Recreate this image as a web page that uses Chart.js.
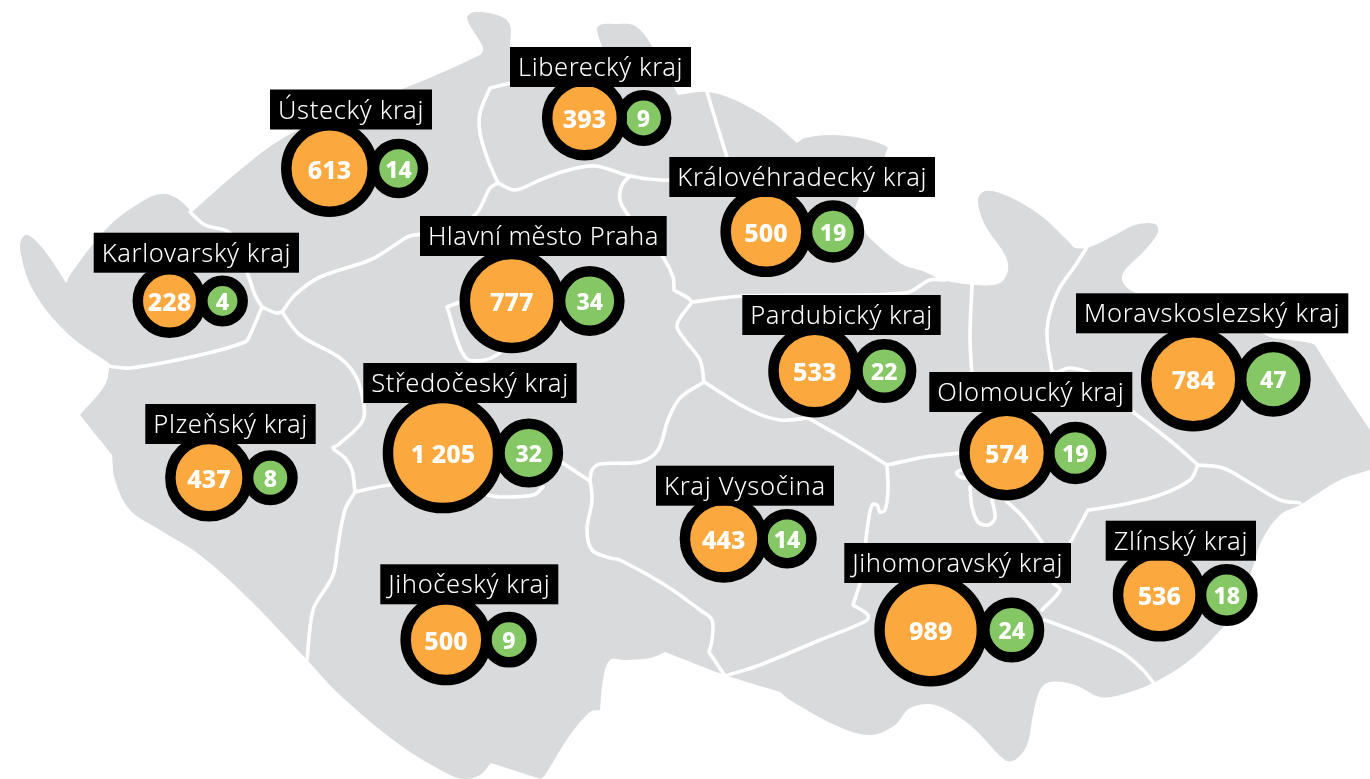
<!DOCTYPE html>
<html lang="cs">
<head>
<meta charset="utf-8">
<title>Kraje</title>
<script src="https://cdn.jsdelivr.net/npm/chart.js@4"></script>
<style>
html,body{margin:0;padding:0;background:#fff;overflow:hidden}
canvas{display:block}
</style>
</head>
<body>
<canvas id="c" width="1370" height="779"></canvas>
<script>
// ---- values ----
const categories = ["Ústecký kraj","Karlovarský kraj","Liberecký kraj","Královéhradecký kraj","Hlavní město Praha","Pardubický kraj","Středočeský kraj","Plzeňský kraj","Jihočeský kraj","Kraj Vysočina","Jihomoravský kraj","Olomoucký kraj","Moravskoslezský kraj","Zlínský kraj"];
const orangeValues = [613,228,393,500,777,533,1205,437,500,443,989,574,784,536];
const greenValues  = [14,4,9,19,34,22,32,8,9,14,24,19,47,18];

// ---- placement on the map ----
const orangeX = [329.5,169.5,584.5,766,511.7,814.7,443,209,446,723.7,930.7,1006.7,1193.3,1159.3];
const greenX  = [398.5,222.5,643.5,833,589.7,884.3,528.7,270.3,509,787,1011.7,1075.3,1273.3,1226.7];
const rowY    = [168.5,301,118,231.5,301,371,453,477.7,639.7,538.7,630,453,379.3,595];
const labelLeft  = [270,93.7,510,669.3,420,742.3,363.3,145.3,380.3,656,844.3,929.3,1076,1105.7];
const labelRight = [432,299,691,935,666.7,940.7,576.7,315.7,558.3,834,1071,1132.3,1348.3,1256];
const labelTop   = [89.5,232.7,47,157,216,295,363,404,564.3,465.7,543,372,293.3,520.7];

// ---- map geometry (a repeated pair makes a sharp corner) ----
const mapOutline = [[110,364],[110,364],[67,333],[33,290],[20,248],[25,235],[35,240],[50,258],[66,283],[66,283],[72,272],[110,225],[150,197],[165,194],[178,199],[192,212],[192,212],[240,170],[280,140],[340,110],[400,90],[480,55],[483,50],[482,45],[467,18],[475,12],[500,16],[510,25],[510,47],[510,47],[602,47],[602,47],[597,30],[600,25],[615,24],[635,26],[652,46],[678,95],[678,95],[707,92],[735,100],[770,120],[797,143],[797,143],[805,138],[830,135],[860,138],[887,147],[885,155],[885,157],[860,196],[855,215],[865,233],[900,263],[925,272],[943,280],[975,285],[1000,283],[1008,270],[1005,255],[985,225],[978,200],[985,191],[1005,195],[1040,215],[1070,243],[1075,248],[1090,247],[1115,235],[1135,225],[1155,224],[1158,232],[1145,250],[1125,270],[1122,280],[1130,290],[1145,296],[1256,330],[1270,337],[1290,340],[1310,343],[1315,345],[1315,345],[1340,385],[1370,430],[1370,430],[1370,470],[1370,470],[1340,480],[1300,505],[1280,515],[1262,540],[1252,570],[1240,605],[1225,625],[1190,660],[1155,682],[1120,695],[1100,697],[1075,685],[1050,682],[1040,690],[1033,715],[1027,745],[1015,760],[1005,760],[970,725],[935,705],[910,708],[895,725],[870,735],[835,725],[790,700],[780,692],[780,692],[725,675],[665,652],[665,652],[650,658],[625,660],[610,660],[603,680],[600,710],[600,710],[590,712],[570,735],[545,775],[541,779],[541,779],[491,763],[491,763],[480,775],[465,779],[450,775],[400,745],[340,695],[307,660],[250,600],[200,555],[160,530],[130,510],[115,480],[112,455],[112,455],[100,440],[80,415],[80,415],[105,385],[110,364]];
const boundaries = [
 [[190,212],[205,225],[230,233],[247,272],[255,295],[262,307],[262,307],[276,313],[282,312],[282,312],[295,295],[320,277],[370,260],[395,245],[410,236],[440,232],[475,215],[490,188],[498,183],[498,183],[515,190],[540,180],[565,171],[595,166],[630,176],[660,180],[690,180]],
 [[262,307],[262,307],[250,335],[245,342],[200,355],[130,368],[108,366]],
 [[498,183],[498,183],[488,160],[480,133],[480,113],[490,88],[490,88],[515,82]],
 [[707,92],[717,125],[727,157]],
 [[630,176],[622,185],[620,200],[628,215],[645,235],[663,257],[673,277],[674,290],[674,290],[688,298],[692,302],[692,302],[743,296],[905,293],[930,280],[945,280]],
 [[692,302],[692,302],[677,325],[685,340],[700,360],[704,382],[704,382],[680,398],[668,420],[658,450],[640,462],[600,464],[592,470],[590,480],[590,480],[592,500],[587,530],[592,550],[610,558],[620,560],[665,585],[700,610],[712,620],[712,640],[709,652],[709,652],[725,676]],
 [[540,445],[563,463],[590,481]],
 [[704,382],[704,382],[750,410],[780,420],[808,418],[808,418],[850,442],[887,465],[887,465],[925,457],[960,453]],
 [[887,465],[887,465],[888,490],[885,510],[880,512],[877,505],[872,505],[867,530],[862,575],[853,605],[853,605],[868,615],[866,621],[820,640],[760,665],[725,676]],
 [[282,312],[282,312],[300,335],[340,358],[355,375],[362,395],[363,420],[338,445],[333,448],[345,458],[352,470],[355,492],[355,492],[393,485],[440,490]],
 [[355,492],[355,492],[345,510],[338,545],[333,575],[315,605],[311,620],[307,660]],
 [[487,495],[500,497],[533,495],[543,487]],
 [[465,300],[447,307],[447,307],[465,357],[485,360],[505,350]],
 [[972,285],[970,337],[972,376]],
 [[1087,247],[1077,263],[1057,293],[1047,330],[1052,372]],
 [[1052,372],[1057,372],[1070,368],[1090,373],[1110,385]],
 [[1133,412],[1173,443],[1198,465],[1198,465],[1223,468],[1250,483],[1280,500],[1300,503]],
 [[1198,465],[1198,465],[1190,480],[1160,495],[1120,505],[1088,510],[1088,510],[1070,543]],
 [[1040,560],[1053,583],[1060,590],[1042,610]],
 [[1045,620],[1090,637],[1123,653],[1143,670],[1153,682]],
 [[1005,500],[1023,517],[1042,542]],
 [[970,487],[972,507],[978,522],[988,525],[995,518],[992,500]],
 [[975,465],[957,472],[960,477],[970,478]]
];

// ---- style ----
const GREY = "#d9dadc", ORANGE = "#fba93f", GREEN = "#85c765", BLACK = "#000";
const RING = 10.5;
const orangeRadius = v => 8.5 + 1.19 * Math.sqrt(v) + RING / 2;
const greenRadius  = v => 10 + 2.47 * Math.sqrt(v) + RING / 2;
const pts = a => a.map(p => ({x: p[0], y: p[1]}));
const fmt = v => v >= 1000 ? Math.floor(v / 1000) + " " + String(v % 1000).padStart(3, "0") : String(v);

const textPlugin = {
  id: "krajText",
  afterDatasetsDraw(chart) {
    const {ctx, scales: {x, y}} = chart;
    ctx.save();
    // value numbers
    ctx.fillStyle = "#fff"; ctx.textAlign = "center"; ctx.textBaseline = "alphabetic";
    categories.forEach((c, i) => {
      const cy = y.getPixelForValue(rowY[i]);
      ctx.font = "800 25px 'Noto Sans'";
      ctx.fillText(fmt(orangeValues[i]), x.getPixelForValue(orangeX[i]), cy + 10);
      ctx.font = "800 23px 'Noto Sans'";
      ctx.fillText(fmt(greenValues[i]), x.getPixelForValue(greenX[i]), cy + 9);
    });
    // region labels
    categories.forEach((c, i) => {
      const l = x.getPixelForValue(labelLeft[i]), r = x.getPixelForValue(labelRight[i]);
      const t = y.getPixelForValue(labelTop[i]);
      ctx.fillStyle = BLACK;
      ctx.fillRect(l, t, r - l, 40);
      ctx.fillStyle = "#fff";
      ctx.font = "300 25.5px 'Noto Sans'";
      ctx.textAlign = "left";
      ctx.letterSpacing = "0px";
      const target = r - l - 16;
      const w = ctx.measureText(c).width;
      ctx.letterSpacing = ((target - w) / c.length).toFixed(3) + "px";
      ctx.fillText(c, l + 8, t + 29);
      ctx.letterSpacing = "0px";
      ctx.textAlign = "center";
    });
    ctx.restore();
  }
};

const lineBase = {type: "line", pointRadius: 0, tension: 0.35, borderCapStyle: "round", borderJoinStyle: "round", clip: false};
new Chart(document.getElementById("c"), {
  type: "bubble",
  data: {
    datasets: [
      {...lineBase, label: "map", data: pts(mapOutline), borderWidth: 0, borderColor: "rgba(0,0,0,0)", backgroundColor: GREY, fill: "shape", order: 5},
      ...boundaries.map((b, i) => ({...lineBase, label: "b" + i, data: pts(b), borderColor: "#fff", borderWidth: 3.6, fill: false, order: 4})),
      {label: "green", data: greenValues.map((v, i) => ({x: greenX[i], y: rowY[i], r: greenRadius(v)})), backgroundColor: GREEN, borderColor: BLACK, borderWidth: RING, hoverBorderWidth: RING, order: 2},
      {label: "orange", data: orangeValues.map((v, i) => ({x: orangeX[i], y: rowY[i], r: orangeRadius(v)})), backgroundColor: ORANGE, borderColor: BLACK, borderWidth: RING, hoverBorderWidth: RING, order: 1}
    ]
  },
  options: {
    responsive: false,
    animation: false,
    events: [],
    layout: {padding: 0, autoPadding: false},
    clip: false,
    plugins: {legend: {display: false}, tooltip: {enabled: false}, title: {display: false}},
    scales: {
      x: {type: "linear", min: 0, max: 1370, display: false},
      y: {type: "linear", min: 0, max: 779, reverse: true, display: false}
    }
  },
  plugins: [textPlugin]
});
</script>
</body>
</html>
